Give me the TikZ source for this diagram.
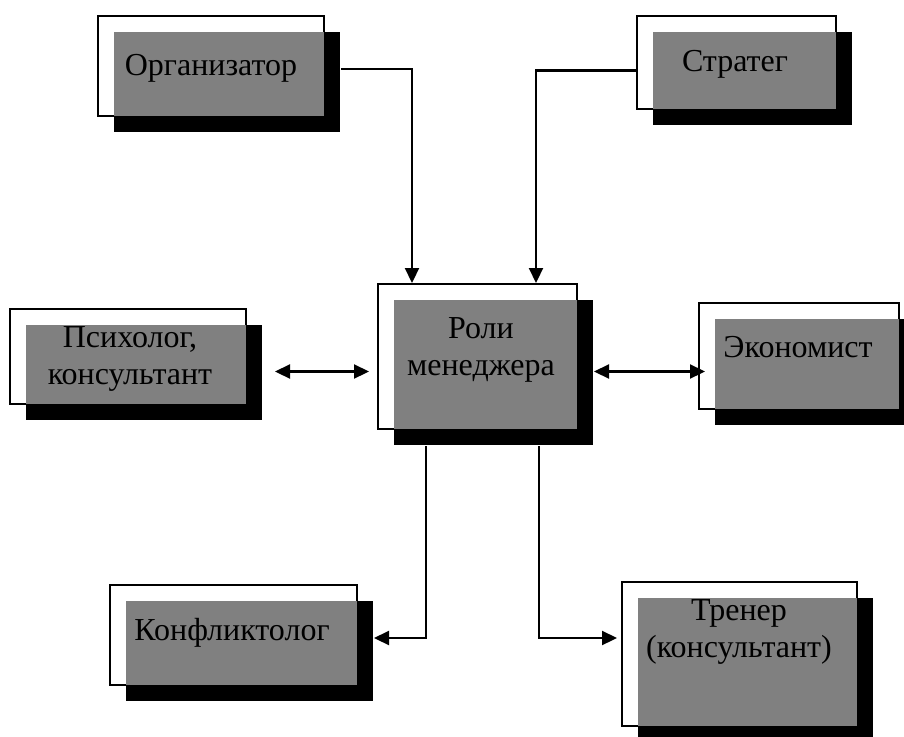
\documentclass[tikz,border=0pt]{standalone}
\usepackage{fontspec}
\setmainfont{Liberation Serif}
\usetikzlibrary{fit,calc,arrows.meta}

\definecolor{boxgray}{RGB}{128,128,128}

\tikzset{
  frame/.style={draw=black, line width=2pt, fill=white, inner sep=0pt, rectangle},
  conn/.style={draw=black, line width=2.2pt},
  tip/.style={-{Triangle[length=15pt,width=14pt]}},
  bitip/.style={{Triangle[length=15pt,width=14pt]}-{Triangle[length=15pt,width=14pt]}},
  label/.style={font=\fontsize{32}{37}\selectfont, align=center, inner sep=0pt, anchor=base}
}

% white frame with a black drop shadow and a gray face where they overlap
\newcommand\rolebox[5]{%
  \node[frame, fit={(#2,#3) (#4,#5)}] (#1) {};
  \fill[black] (#2+16,#3+16) rectangle (#4+16,#5+16);
  \fill[boxgray] (#2+16,#3+16) rectangle (#4,#5);
}

\begin{document}
\begin{tikzpicture}[x=1pt,y=-1pt]
  \clip (0,0) rectangle (904,736);
  \fill[white] (0,0) rectangle (904,736);

  \rolebox{org}{98}{16}{324}{116}
  \rolebox{strat}{637}{16}{836}{109}
  \rolebox{roles}{378}{284}{577}{429}
  \rolebox{psych}{10}{309}{246}{404}
  \rolebox{econ}{699}{303}{899}{409}
  \rolebox{konf}{110}{585}{357}{685}
  \rolebox{tren}{622}{582}{857}{726}

  % two-line labels are anchored at the baseline of their last line
  \node[label] (orgT)   at (211,75)  {Организатор};
  \node[label] (stratT) at (735,71)  {Стратег};
  \node[label] (rolesT) at (481,375) {Роли\\менеджера};
  \node[label] (psychT) at (130,384) {Психолог,\\консультант};
  \node[label] (econT)  at (798,357) {Экономист};
  \node[label] (konfT)  at (232,640) {Конфликтолог};
  \node[label] (trenT)  at (739,657) {Тренер\\(консультант)};

  % connectors
  \draw[conn,tip] ($(org.east)+(16,3)$) -| ($(roles.north west)+(35,0)$);
  \draw[conn,tip] ($(strat.west)+(0,8)$) -| ($(roles.north west)+(159,0)$);
  \draw[conn,bitip] ($(psych.east)+(28,15)$) -- ($(roles.west)+(-8,15)$);
  \coordinate (econA) at ($(roles.east)+(16,15)$);
  \draw[conn,bitip] (econA) -- ([xshift=7pt]econA -| econ.west);
  \draw[conn,tip] ($(roles.south west)+(49,16)$) |- ($(konf.east)+(16,3)$);
  \draw[conn,tip] ($(roles.south west)+(162,16)$) |- ($(tren.west)+(-4,-16)$);
\end{tikzpicture}
\end{document}
